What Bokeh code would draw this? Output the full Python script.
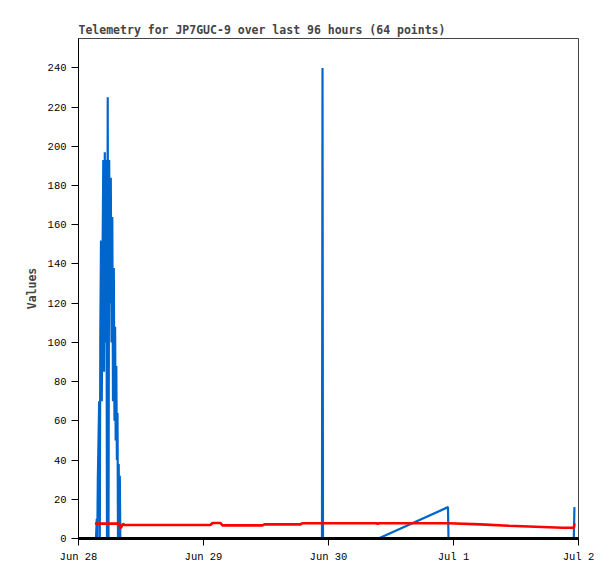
from bokeh.plotting import figure
from bokeh.models import ColumnDataSource, FixedTicker, Range1d
from bokeh.embed import file_html
from bokeh.resources import INLINE

# hours since Jun 28 00:00
hours = [3.17, 3.36, 3.51, 3.61, 3.71, 3.84, 3.97, 4.09, 4.19, 4.32,
         4.47, 4.61, 4.76, 4.90, 5.05, 5.22, 5.34, 5.47, 5.61, 5.76,
         5.89, 6.05, 6.20, 6.34, 6.49, 6.62, 6.78, 6.91, 7.03, 7.14,
         7.26, 7.37, 7.49, 7.58, 7.72, 7.83, 7.93, 8.03, 8.26, 8.54,
         8.83, 15.74, 25.34, 25.73, 27.26, 27.65, 35.33, 35.71, 42.62, 43.01,
         46.75, 46.85, 46.94, 57.31, 57.45, 57.60, 70.94, 71.04, 77.18, 82.56,
         87.74, 92.93, 95.10, 95.22]

blue_values = [0, 0, 10, 0, 30, 50, 70, 0, 105, 152,
               70, 140, 193, 85, 197, 100, 193, 0, 225, 0,
               193, 120, 184, 100, 164, 70, 138, 60, 108, 50,
               88, 40, 64, 0, 38, 0, 32, 0, 0, 0,
               0, 0, 0, 0, 0, 0, 0, 0, 0, 0,
               0, 240, 0, 0, 0, 0, 16, 0, 0, 0,
               0, 0, 0, 16]

red_values = [7.5, 7.6, 7.6, 7.5, 7.6, 7.6, 7.5, 7.6, 7.6, 7.5,
              7.6, 7.6, 7.5, 7.6, 7.6, 7.5, 7.6, 7.6, 7.6, 7.5,
              7.6, 7.6, 7.6, 7.5, 7.6, 7.6, 7.6, 7.5, 7.6, 7.6,
              7.6, 7.5, 7.6, 7.6, 7.5, 7.6, 6.5, 5.3, 6.0, 7.5,
              6.9, 6.9, 6.9, 7.9, 7.9, 6.7, 6.7, 7.2, 7.2, 7.8,
              7.8, 7.8, 7.8, 7.8, 7.3, 7.8, 7.8, 7.8, 7.2, 6.5,
              6.0, 5.5, 5.5, 7.7]

tick_hours = [0, 24, 48, 72, 96]
tick_labels = ["Jun 28", "Jun 29", "Jun 30", "Jul 1", "Jul 2"]
y_ticks = list(range(0, 241, 20))

title_text = "Telemetry for JP7GUC-9 over last 96 hours (64 points)"

src = ColumnDataSource(data=dict(t=hours, blue=blue_values, red=red_values))

p = figure(width=608, height=573, output_backend="svg", toolbar_location=None,
           x_range=Range1d(tick_hours[0], tick_hours[-1]), y_range=Range1d(0, 255),
           min_border_left=78, min_border_right=30, min_border_top=38, min_border_bottom=35,
           frame_width=500, frame_height=500)

p.title.text = title_text
p.title.align = "left"
p.title.text_font = "DejaVu Sans Mono"
p.title.text_font_size = "11.5px"
p.title.text_font_style = "bold"
p.title.standoff = 3
p.title.offset = 0

p.line("t", "blue", source=src, line_color="#0066CC", line_width=2.2)
p.line("t", "red", source=src, line_color="#FF0000", line_width=2.6)

p.xgrid.visible = False
p.ygrid.visible = False
p.outline_line_color = "#444444"
p.outline_line_width = 1
p.background_fill_color = "white"
p.border_fill_color = "white"

p.xaxis.ticker = FixedTicker(ticks=tick_hours)
p.xaxis.major_label_overrides = {h: l for h, l in zip(tick_hours, tick_labels)}
p.yaxis.ticker = FixedTicker(ticks=y_ticks)

for ax in (p.xaxis, p.yaxis):
    ax.axis_line_color = "black"
    ax.major_tick_line_color = "black"
    ax.major_tick_in = 0
    ax.major_tick_out = 7
    ax.minor_tick_line_color = None
    ax.major_label_text_font = "Liberation Mono"
    ax.major_label_text_font_size = "10.5px"
    ax.major_label_text_color = "black"
    ax.major_label_standoff = 5

p.xaxis.axis_line_width = 3
p.yaxis.axis_line_width = 1
p.yaxis.axis_label = "Values"
p.yaxis.axis_label_text_font = "DejaVu Sans Mono"
p.yaxis.axis_label_text_font_size = "11.5px"
p.yaxis.axis_label_text_font_style = "bold"
p.yaxis.axis_label_standoff = 6

open("out.html", "w").write(file_html(p, INLINE))
